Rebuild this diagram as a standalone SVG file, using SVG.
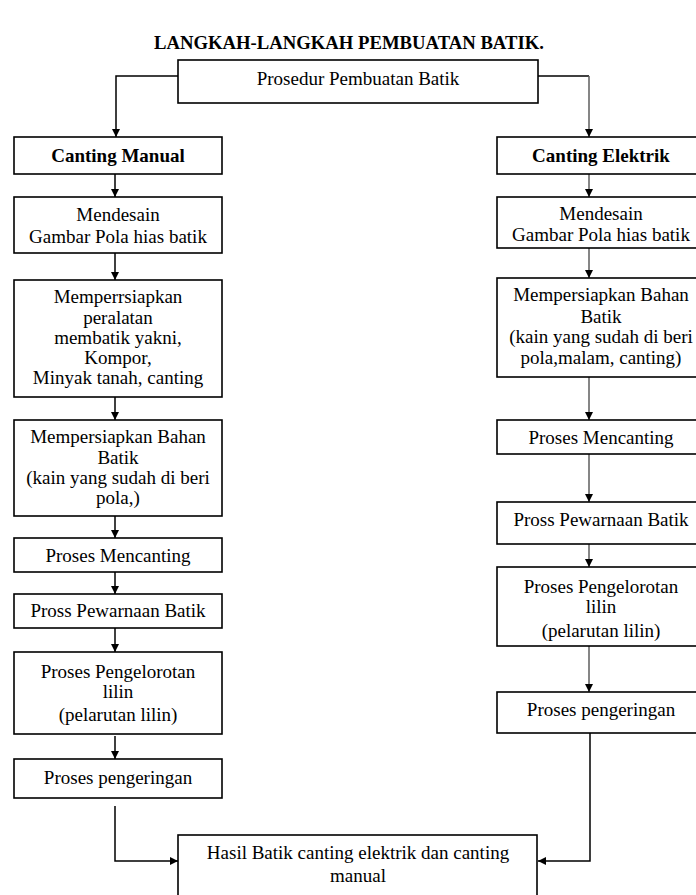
<svg xmlns="http://www.w3.org/2000/svg" width="696" height="895" viewBox="0 0 696 895">
  <style>
    .box { fill: #ffffff; stroke: #000000; stroke-width: 1.6; }
    .t { font-family: "Liberation Serif", "Times New Roman", serif; font-size: 19px; fill: #000000; text-anchor: middle; }
    .b { font-weight: bold; }
    .title { font-family: "Liberation Serif", "Times New Roman", serif; font-size: 18.7px; font-weight: bold; fill: #000000; text-anchor: middle; }
    .c { fill: none; stroke: #000000; stroke-width: 1.5; }
    .g { stroke: #5e5e5e; }
  </style>
  <defs>
    <marker id="ah" viewBox="0 0 10 10" refX="10" refY="5" markerWidth="8" markerHeight="8" markerUnits="userSpaceOnUse" orient="auto">
      <path d="M0,0 L10,5 L0,10 Z" fill="#000000"/>
    </marker>
  </defs>

  <rect width="696" height="895" fill="#ffffff"/>

  <text class="title" x="349" y="49">LANGKAH-LANGKAH PEMBUATAN BATIK.</text>

  <!-- connectors -->
  <g id="connectors">
    <path class="c" d="M178,76 H116 V137" marker-end="url(#ah)"/>
    <path class="c" d="M538,76 H589"/>
    <path class="c g" d="M589,76 V137" marker-end="url(#ah)"/>

    <!-- manual branch -->
    <path class="c" d="M115,174 V197" marker-end="url(#ah)"/>
    <path class="c" d="M115,253 V280" marker-end="url(#ah)"/>
    <path class="c" d="M115,397 V420" marker-end="url(#ah)"/>
    <path class="c" d="M115,516 V538" marker-end="url(#ah)"/>
    <path class="c" d="M115,572 V594" marker-end="url(#ah)"/>
    <path class="c" d="M115,628 V652" marker-end="url(#ah)"/>
    <path class="c" d="M115,736 V759" marker-end="url(#ah)"/>
    <path class="c" d="M115,806 V861 H178" marker-end="url(#ah)"/>

    <!-- electric branch -->
    <path class="c g" d="M589,174 V197" marker-end="url(#ah)"/>
    <path class="c g" d="M589,248 V278" marker-end="url(#ah)"/>
    <path class="c g" d="M589,377 V420" marker-end="url(#ah)"/>
    <path class="c g" d="M589,454 V502" marker-end="url(#ah)"/>
    <path class="c g" d="M589,544 V567" marker-end="url(#ah)"/>
    <path class="c g" d="M589,646 V692" marker-end="url(#ah)"/>
    <path class="c" d="M590,733 V861 H538" marker-end="url(#ah)"/>
  </g>

  <g id="prosedur">
    <rect class="box" x="178" y="60" width="360" height="43"/>
    <text class="t" x="358" y="85">Prosedur Pembuatan Batik</text>
  </g>

  <!-- manual branch -->
  <g id="m-canting">
    <rect class="box" x="14" y="137" width="208" height="37"/>
    <text class="t b" x="118" y="162">Canting Manual</text>
  </g>
  <g id="m-desain">
    <rect class="box" x="14" y="197" width="208" height="56"/>
    <text class="t" x="118" y="221">Mendesain</text>
    <text class="t" x="118" y="243">Gambar Pola hias batik</text>
  </g>
  <g id="m-alat">
    <rect class="box" x="14" y="280" width="208" height="117"/>
    <text class="t" x="118" y="303">Memperrsiapkan</text>
    <text class="t" x="118" y="324">peralatan</text>
    <text class="t" x="118" y="344">membatik yakni,</text>
    <text class="t" x="118" y="364">Kompor,</text>
    <text class="t" x="118" y="384">Minyak tanah, canting</text>
  </g>
  <g id="m-bahan">
    <rect class="box" x="14" y="420" width="208" height="96"/>
    <text class="t" x="118" y="443">Mempersiapkan Bahan</text>
    <text class="t" x="118" y="464">Batik</text>
    <text class="t" x="118" y="484">(kain yang sudah di beri</text>
    <text class="t" x="118" y="504">pola,)</text>
  </g>
  <g id="m-mencanting">
    <rect class="box" x="14" y="538" width="208" height="34"/>
    <text class="t" x="118" y="562">Proses Mencanting</text>
  </g>
  <g id="m-warna">
    <rect class="box" x="14" y="594" width="208" height="34"/>
    <text class="t" x="118" y="617">Pross Pewarnaan Batik</text>
  </g>
  <g id="m-lorot">
    <rect class="box" x="14" y="652" width="208" height="82"/>
    <text class="t" x="118" y="678">Proses Pengelorotan</text>
    <text class="t" x="118" y="698">lilin</text>
    <text class="t" x="118" y="721">(pelarutan lilin)</text>
  </g>
  <g id="m-kering">
    <rect class="box" x="14" y="759" width="208" height="39"/>
    <text class="t" x="118" y="784">Proses pengeringan</text>
  </g>

  <!-- electric branch -->
  <g id="e-canting">
    <rect class="box" x="497" y="137" width="210" height="37"/>
    <text class="t b" x="601" y="162">Canting Elektrik</text>
  </g>
  <g id="e-desain">
    <rect class="box" x="497" y="197" width="210" height="51"/>
    <text class="t" x="601" y="220">Mendesain</text>
    <text class="t" x="601" y="241">Gambar Pola hias batik</text>
  </g>
  <g id="e-bahan">
    <rect class="box" x="497" y="278" width="210" height="99"/>
    <text class="t" x="601" y="301">Mempersiapkan Bahan</text>
    <text class="t" x="601" y="323">Batik</text>
    <text class="t" x="601" y="343">(kain yang sudah di beri</text>
    <text class="t" x="601" y="364">pola,malam, canting)</text>
  </g>
  <g id="e-mencanting">
    <rect class="box" x="497" y="420" width="210" height="34"/>
    <text class="t" x="601" y="444">Proses Mencanting</text>
  </g>
  <g id="e-warna">
    <rect class="box" x="497" y="502" width="210" height="42"/>
    <text class="t" x="601" y="526">Pross Pewarnaan Batik</text>
  </g>
  <g id="e-lorot">
    <rect class="box" x="497" y="567" width="210" height="79"/>
    <text class="t" x="601" y="593">Proses Pengelorotan</text>
    <text class="t" x="601" y="613">lilin</text>
    <text class="t" x="601" y="637">(pelarutan lilin)</text>
  </g>
  <g id="e-kering">
    <rect class="box" x="497" y="692" width="210" height="41"/>
    <text class="t" x="601" y="716">Proses pengeringan</text>
  </g>

  <g id="hasil">
    <rect class="box" x="178" y="835" width="359" height="70"/>
    <text class="t" x="358" y="859">Hasil Batik canting elektrik dan canting</text>
    <text class="t" x="358" y="882">manual</text>
  </g>
</svg>
